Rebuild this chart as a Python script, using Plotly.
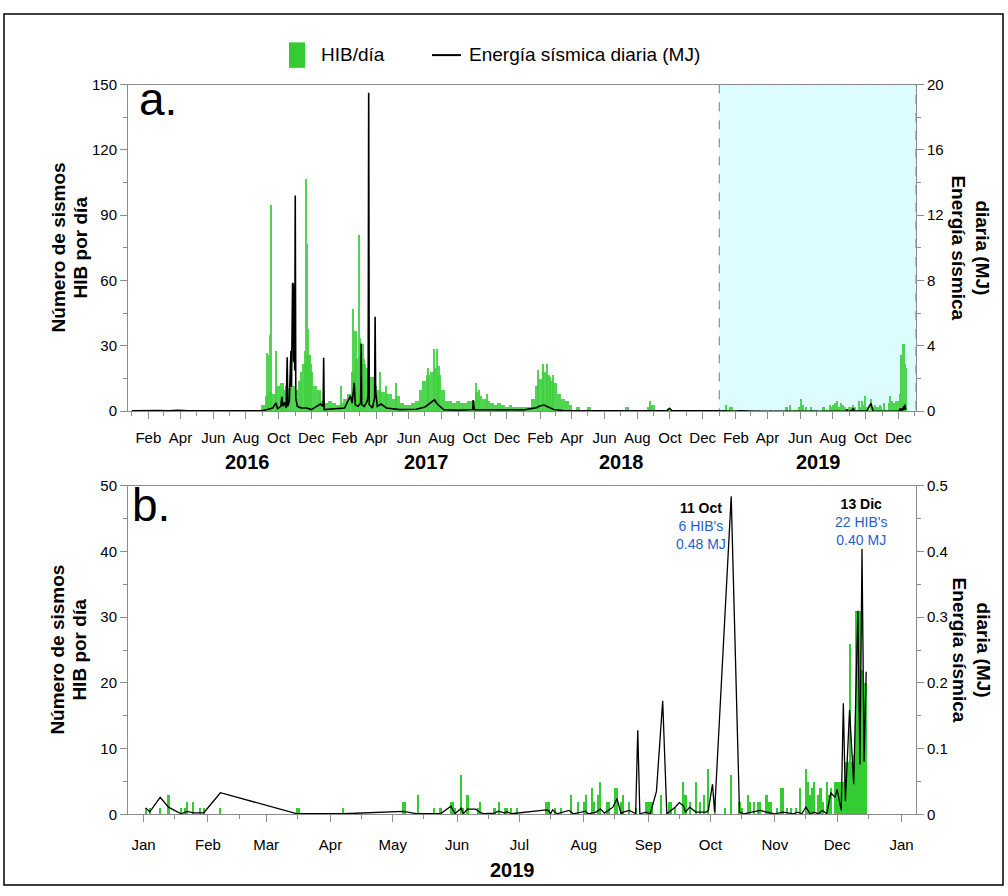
import plotly.graph_objects as go
import pandas as pd

W, H = 1008, 896


def px(x):
    return x / W


def py(y):
    return 1 - y / H


GREEN = "#33cc33"
GREEN_A = "#3fd03f"
BLUE = "#1f5fd0"
AXC = "#8c8c8c"
NARROW = "Liberation Sans Narrow, Arial Narrow, Liberation Sans, Arial, sans-serif"
SANS = "Liberation Sans, Arial, sans-serif"
DAY = 86400000

# ------------------------------------------------------------------
# Panel b : 2019 daily data
# ------------------------------------------------------------------
hib_b_dates = [
    "2019-01-02", "2019-01-04", "2019-01-09", "2019-01-13", "2019-01-19", "2019-01-21", "2019-01-22",
    "2019-01-25", "2019-01-28", "2019-01-30",
    "2019-02-07",
    "2019-03-16", "2019-03-17",
    "2019-04-07",
    "2019-05-06", "2019-05-07", "2019-05-13", "2019-05-21", "2019-05-24", "2019-05-29", "2019-05-30",
    "2019-05-31",
    "2019-06-03", "2019-06-04", "2019-06-06", "2019-06-11", "2019-06-12", "2019-06-19", "2019-06-21",
    "2019-06-24", "2019-06-25", "2019-06-27", "2019-06-30",
    "2019-07-14", "2019-07-15", "2019-07-18", "2019-07-21", "2019-07-26", "2019-07-29",
    "2019-08-01", "2019-08-02", "2019-08-05", "2019-08-06", "2019-08-08", "2019-08-09", "2019-08-12",
    "2019-08-13", "2019-08-16", "2019-08-17", "2019-08-19", "2019-08-20", "2019-08-23", "2019-08-26",
    "2019-08-31",
    "2019-09-01", "2019-09-02", "2019-09-03", "2019-09-07", "2019-09-11", "2019-09-12", "2019-09-14",
    "2019-09-18", "2019-09-19", "2019-09-21", "2019-09-24", "2019-09-26", "2019-09-28", "2019-09-30",
    "2019-10-03", "2019-10-08", "2019-10-11", "2019-10-15", "2019-10-16", "2019-10-19", "2019-10-20",
    "2019-10-22", "2019-10-24", "2019-10-25", "2019-10-28", "2019-10-29", "2019-10-30",
    "2019-11-02", "2019-11-04", "2019-11-05", "2019-11-07", "2019-11-09", "2019-11-11", "2019-11-13",
    "2019-11-16", "2019-11-17", "2019-11-18", "2019-11-19", "2019-11-20", "2019-11-22", "2019-11-23",
    "2019-11-24", "2019-11-26", "2019-11-27", "2019-11-28", "2019-11-30",
    "2019-12-01", "2019-12-02", "2019-12-03", "2019-12-04", "2019-12-05", "2019-12-06", "2019-12-07",
    "2019-12-08", "2019-12-09", "2019-12-10", "2019-12-11", "2019-12-12", "2019-12-13", "2019-12-14",
    "2019-12-15",
]
hib_b_counts = [
    1, 1, 1, 3, 1, 1, 2, 2, 1, 1,
    1,
    1, 1,
    1,
    2, 2, 3, 1, 1, 2, 2, 1,
    6, 1, 3, 1, 2, 1, 2, 1, 1, 1, 1,
    2, 2, 1, 1, 3, 2,
    2, 3, 4, 2, 3, 5, 2, 2, 4, 4, 2, 3, 2, 1, 2,
    2, 2, 2, 3, 2, 2, 1, 5, 3, 2, 5, 2, 3, 7,
    2, 1, 6, 2, 1, 3, 2, 2, 2, 2, 3, 2, 2,
    1, 4, 4, 1, 1, 1, 4, 7, 5, 3, 4, 5, 3, 4, 2, 5, 3, 4, 5,
    5, 5, 5, 5, 8, 8, 26, 8, 9, 31, 31, 31, 22, 20, 20,
]

en_b_dates = [
    "2019-01-02", "2019-01-04", "2019-01-09", "2019-01-13", "2019-01-19", "2019-01-22", "2019-01-25",
    "2019-01-30", "2019-02-07", "2019-03-16", "2019-04-07", "2019-05-06", "2019-05-13", "2019-05-21",
    "2019-05-24", "2019-05-29", "2019-05-31", "2019-06-03", "2019-06-04", "2019-06-06", "2019-06-10",
    "2019-06-12", "2019-06-14", "2019-06-19", "2019-06-21", "2019-06-24", "2019-06-25", "2019-06-27",
    "2019-06-30", "2019-07-14", "2019-07-15", "2019-07-16", "2019-07-17", "2019-07-19", "2019-07-25",
    "2019-07-27", "2019-08-02", "2019-08-03", "2019-08-07", "2019-08-09", "2019-08-11", "2019-08-15",
    "2019-08-17", "2019-08-19", "2019-08-20", "2019-08-23", "2019-08-26", "2019-08-27", "2019-08-28",
    "2019-08-31", "2019-09-02", "2019-09-05", "2019-09-08", "2019-09-10", "2019-09-14", "2019-09-16",
    "2019-09-18", "2019-09-19", "2019-09-21", "2019-09-24", "2019-09-29", "2019-09-30", "2019-10-02",
    "2019-10-03", "2019-10-11", "2019-10-15", "2019-10-17", "2019-10-21", "2019-10-25", "2019-10-28",
    "2019-11-01", "2019-11-05", "2019-11-10", "2019-11-12", "2019-11-14", "2019-11-16", "2019-11-18",
    "2019-11-20", "2019-11-22", "2019-11-24", "2019-11-26", "2019-11-28", "2019-11-30", "2019-12-01",
    "2019-12-03", "2019-12-04", "2019-12-05", "2019-12-07", "2019-12-09", "2019-12-11", "2019-12-12",
    "2019-12-13", "2019-12-14", "2019-12-15",
]
en_b_mj = [
    0.010, 0.004, 0.026, 0.011, 0.001, 0.0045, 0.0025,
    0.0025, 0.033, 0.001, 0.001, 0.0045, 0.001, 0.0005,
    0.001, 0.0125, 0.001, 0.0095, 0.001, 0.008, 0.008,
    0.003, 0.001, 0.002, 0.005, 0.002, 0.0045, 0.001,
    0.002, 0.007, 0.006, 0.001, 0.007, 0.001, 0.006,
    0.001, 0.005, 0.001, 0.0035, 0.0085, 0.002, 0.011,
    0.024, 0.001, 0.0035, 0.006, 0.001, 0.128, 0.001,
    0.0035, 0.001, 0.035, 0.173, 0.001, 0.011, 0.018,
    0.013, 0.0035, 0.011, 0.0035, 0.0035, 0.006, 0.046,
    0.0035, 0.484, 0.0035, 0.001, 0.0035, 0.006, 0.0035,
    0.001, 0.0035, 0.001, 0.0035, 0.001, 0.011, 0.001,
    0.0035, 0.001, 0.006, 0.001, 0.033, 0.026, 0.038,
    0.006, 0.169, 0.020, 0.159, 0.046, 0.310, 0.076,
    0.404, 0.080, 0.217,
]

# ------------------------------------------------------------------
# Panel a : 2016-2018 (weekly background level + single-day peaks)
# ------------------------------------------------------------------
hib_a_week_start = "2016-01-04"
hib_a_weekly = [
    0, 0, 1, 0, 1, 0, 1, 0, 0, 0,
    1, 0, 0, 0, 1, 0, 0, 0, 0, 0,
    0, 0, 0, 0, 0, 0, 0, 1, 0, 0,
    0, 0, 0, 0, 3, 7, 9, 8, 12, 7,
    10, 11, 12, 10, 14, 22, 26, 18, 12, 10,
    5, 4, 5, 4, 3, 4, 6, 8, 18, 24,
    26, 22, 20, 16, 12, 10, 9, 8, 8, 6,
    7, 4, 3, 3, 4, 5, 10, 14, 17, 18,
    20, 17, 10, 5, 5, 4, 5, 4, 4, 5,
    5, 9, 7, 6, 5, 4, 3, 4, 3, 2,
    3, 2, 2, 2, 2, 2, 6, 12, 15, 18,
    17, 14, 13, 8, 6, 5, 3, 1, 2, 1,
    1, 2, 1, 0, 1, 1, 0, 1, 0, 1,
    1, 2, 1, 1, 0, 1, 1, 2, 3, 1,
    1, 0, 1, 1, 1, 0, 1, 1, 1, 0,
    1, 1, 0, 1, 0, 1,
]

hib_a_peak_dates = [
    "2016-09-09", "2016-09-11", "2016-09-15", "2016-09-17", "2016-09-26", "2016-10-06", "2016-10-09",
    "2016-10-14", "2016-11-12", "2016-11-19", "2016-11-22", "2016-11-23", "2016-11-25", "2016-11-28",
    "2016-12-01", "2016-12-17", "2017-01-26", "2017-02-16", "2017-02-20", "2017-02-22", "2017-02-28",
    "2017-03-02", "2017-03-07", "2017-03-10", "2017-04-08", "2017-04-20", "2017-05-08", "2017-07-07",
    "2017-07-18", "2017-07-24", "2017-07-27", "2017-10-04", "2017-10-10", "2017-10-25", "2018-01-28",
    "2018-02-06", "2018-02-13", "2018-02-20", "2018-02-25", "2018-08-24",
]
hib_a_peak_counts = [
    27, 26, 35, 95, 28, 13, 13,
    12, 18, 28, 107, 77, 38, 26,
    22, 9, 12, 47, 37, 37, 81,
    34, 31, 24, 18, 12, 13, 20,
    29, 29, 21, 13, 10, 8, 19,
    22, 22, 16, 17, 5,
]

en_a_dates = [
    "2016-01-01", "2016-01-20", "2016-02-10", "2016-02-20", "2016-03-10", "2016-03-27", "2016-04-15",
    "2016-06-01", "2016-08-01", "2016-08-31", "2016-09-10", "2016-09-20", "2016-09-26", "2016-09-29",
    "2016-10-05", "2016-10-07", "2016-10-09", "2016-10-12", "2016-10-15", "2016-10-17", "2016-10-18",
    "2016-10-21", "2016-10-23", "2016-10-24", "2016-10-25", "2016-10-26", "2016-10-27", "2016-10-28",
    "2016-10-29", "2016-10-30", "2016-10-31", "2016-11-01", "2016-11-02", "2016-11-05", "2016-11-12",
    "2016-11-22", "2016-12-01", "2016-12-18", "2016-12-23", "2016-12-24", "2016-12-25", "2017-01-10",
    "2017-02-01", "2017-02-12", "2017-02-15", "2017-02-19", "2017-02-21", "2017-02-26", "2017-03-03",
    "2017-03-04", "2017-03-05", "2017-03-10", "2017-03-15", "2017-03-17", "2017-03-18", "2017-03-19",
    "2017-03-25", "2017-03-29", "2017-03-30", "2017-03-31", "2017-04-03", "2017-04-10", "2017-04-20",
    "2017-05-15", "2017-06-15", "2017-07-01", "2017-07-19", "2017-07-22", "2017-07-26", "2017-08-05",
    "2017-09-01", "2017-09-28", "2017-09-29", "2017-10-01", "2017-11-01", "2018-01-01", "2018-01-25",
    "2018-01-31", "2018-02-08", "2018-02-16", "2018-02-26", "2018-03-15", "2018-06-01", "2018-09-25",
    "2018-09-30", "2018-10-05", "2018-12-31",
]
en_a_mj = [
    0.02, 0.03, 0.06, 0.04, 0.02, 0.06, 0.02,
    0.01, 0.01, 0.02, 0.10, 0.20, 0.50, 0.15,
    0.30, 0.88, 0.30, 0.54, 0.20, 3.30, 0.30,
    0.60, 2.80, 3.70, 1.50, 3.90, 7.85, 7.80,
    3.00, 7.70, 2.50, 13.20, 0.80, 0.30, 0.20,
    0.20, 0.10, 0.44, 0.30, 3.28, 0.10, 0.14,
    0.20, 0.94, 0.50, 1.74, 0.40, 0.30, 0.50,
    4.14, 0.40, 0.30, 0.60, 1.00, 19.50, 0.40,
    0.20, 0.80, 5.79, 1.24, 0.30, 0.44, 0.20,
    0.10, 0.12, 0.26, 0.70, 0.52, 0.38, 0.10,
    0.06, 0.10, 0.68, 0.10, 0.08, 0.08, 0.22,
    0.32, 0.38, 0.26, 0.10, 0.04, 0.02, 0.02,
    0.18, 0.02, 0.02,
]

legend_labels = ["HIB/día", "Energía sísmica diaria (MJ)"]

assert len(hib_b_dates) == len(hib_b_counts)
assert len(en_b_dates) == len(en_b_mj)
assert len(hib_a_peak_dates) == len(hib_a_peak_counts)
assert len(en_a_dates) == len(en_a_mj)

# axis ranges / ticks
range_a = ["2015-12-25", "2020-01-03"]
range_b = ["2018-12-24 12:00", "2020-01-08"]
shade_start = "2019-01-01"

weekly_dates = pd.date_range(hib_a_week_start, periods=len(hib_a_weekly), freq="7D")

fig = go.Figure()

# ---- panel a ----
fig.add_trace(go.Bar(x=weekly_dates, y=hib_a_weekly, width=7 * DAY, offset=0,
                     marker=dict(color=GREEN_A, line=dict(width=0)), opacity=0.9,
                     xaxis="x", yaxis="y", showlegend=False, hoverinfo="skip"))
fig.add_trace(go.Bar(x=hib_a_peak_dates + hib_b_dates, y=hib_a_peak_counts + hib_b_counts,
                     width=2.0 * DAY, marker=dict(color=GREEN_A, line=dict(width=0)), opacity=0.9,
                     xaxis="x", yaxis="y", showlegend=False, hoverinfo="skip"))
fig.add_trace(go.Scatter(x=en_a_dates + en_b_dates, y=en_a_mj + en_b_mj, mode="lines",
                         line=dict(color="black", width=1.6),
                         xaxis="x", yaxis="y2", showlegend=False, hoverinfo="skip"))

# ---- panel b ----
fig.add_trace(go.Bar(x=hib_b_dates, y=hib_b_counts, width=DAY,
                     marker=dict(color=GREEN, line=dict(width=0)),
                     xaxis="x2", yaxis="y3", name=legend_labels[0], showlegend=False))
fig.add_trace(go.Scatter(x=en_b_dates, y=en_b_mj, mode="lines",
                         line=dict(color="black", width=1.3),
                         xaxis="x2", yaxis="y4", name=legend_labels[1], showlegend=False))

tickfont = dict(family=NARROW, size=15, color="black")
common = dict(showline=True, linecolor=AXC, linewidth=1, ticks="outside", tickcolor=AXC,
              ticklen=7, showgrid=False, zeroline=False, tickfont=tickfont)

xa_dom = [px(128), px(916)]
ya_dom = [py(410), py(77)]
yb_dom = [py(821), py(486)]

fig.update_layout(
    width=W, height=H,
    margin=dict(l=0, r=0, t=0, b=0),
    paper_bgcolor="white", plot_bgcolor="white",
    barmode="overlay", bargap=0,
    font=dict(family=SANS, color="black"),
    showlegend=False,
    xaxis=dict(domain=xa_dom, anchor="y", range=range_a, type="date",
               tickformat="%b", dtick="M2", tick0="2016-02-01", mirror=True,
               ticklabelstandoff=6,
               minor=dict(dtick="M1", tick0="2016-01-01", ticks="outside", ticklen=4,
                          tickcolor=AXC, showgrid=False),
               **common),
    yaxis=dict(domain=ya_dom, anchor="x", range=[0, 150], tick0=0, dtick=30,
               minor=dict(dtick=15, ticks="outside", ticklen=4, tickcolor=AXC, showgrid=False),
               **common),
    yaxis2=dict(overlaying="y", anchor="x", side="right", range=[0, 20], tick0=0, dtick=4,
                minor=dict(dtick=2, ticks="outside", ticklen=4, tickcolor=AXC, showgrid=False),
                **common),
    xaxis2=dict(domain=xa_dom, anchor="y3", range=range_b, type="date",
                tickformat="%b", dtick="M1", tick0="2019-01-01", mirror=True,
                ticklabelstandoff=10,
                minor=dict(dtick="M1", tick0="2019-01-16", ticks="outside", ticklen=4,
                           tickcolor=AXC, showgrid=False),
                **common),
    yaxis3=dict(domain=yb_dom, anchor="x2", range=[0, 50], tick0=0, dtick=10,
                minor=dict(dtick=5, ticks="outside", ticklen=4, tickcolor=AXC, showgrid=False),
                **common),
    yaxis4=dict(overlaying="y3", anchor="x2", side="right", range=[0, 0.5], tick0=0, dtick=0.1,
                minor=dict(dtick=0.05, ticks="outside", ticklen=4, tickcolor=AXC, showgrid=False),
                **common),
)

# shaded 2019 window in panel a
fig.add_shape(type="rect", xref="x", yref="y", x0=shade_start, x1=range_a[1], y0=0, y1=150,
              fillcolor="#dcfcfd", line=dict(color="#7a7a7a", width=1, dash="dash"), layer="below")
# outer frame
fig.add_shape(type="rect", xref="paper", yref="paper", x0=px(4), x1=px(1003), y0=py(893), y1=py(5),
              line=dict(color="black", width=1.5), fillcolor="rgba(0,0,0,0)", layer="above")
# legend keys (drawn by hand to match the reference key sizes)
fig.add_shape(type="rect", xref="paper", yref="paper", x0=px(289), x1=px(305), y0=py(60), y1=py(34),
              fillcolor=GREEN, line=dict(width=0))
fig.add_shape(type="line", xref="paper", yref="paper", x0=px(432), x1=px(461), y0=py(47), y1=py(47),
              line=dict(color="black", width=2))

ann = []
legfont = dict(family=NARROW, size=19, color="black")
ann.append(dict(text=legend_labels[0], x=px(319), y=py(46), xref="paper", yref="paper",
                xanchor="left", yanchor="middle", showarrow=False, font=legfont))
ann.append(dict(text=legend_labels[1], x=px(467), y=py(46), xref="paper", yref="paper",
                xanchor="left", yanchor="middle", showarrow=False, font=legfont))

# panel letters
ann.append(dict(text="a.", x=px(137), y=py(92), xref="paper", yref="paper", xanchor="left",
                yanchor="middle", showarrow=False, font=dict(family=SANS, size=46, color="black")))
ann.append(dict(text="b.", x=px(130), y=py(506), xref="paper", yref="paper", xanchor="left",
                yanchor="middle", showarrow=False, font=dict(family=SANS, size=46, color="black")))

# year labels
years_a = ["2016", "2017", "2018", "2019"]
years_a_x = [247, 426, 621, 818]
for t, xp in zip(years_a, years_a_x):
    ann.append(dict(text="<b>%s</b>" % t, x=px(xp), y=py(462), xref="paper", yref="paper",
                    xanchor="center", yanchor="middle", showarrow=False,
                    font=dict(family=NARROW, size=20, color="black")))
ann.append(dict(text="<b>2019</b>", x=px(512), y=py(878), xref="paper", yref="paper",
                xanchor="center", yanchor="middle", showarrow=False,
                font=dict(family=NARROW, size=20, color="black")))

# axis titles
titlefont = dict(family=SANS, size=19, color="black")
for yc in (243, 653):
    ann.append(dict(text="<b>Número de sismos</b>", x=px(58), y=py(yc), xref="paper", yref="paper",
                    xanchor="center", yanchor="middle", textangle=-90, showarrow=False, font=titlefont))
    ann.append(dict(text="<b>HIB por día</b>", x=px(80), y=py(yc), xref="paper", yref="paper",
                    xanchor="center", yanchor="middle", textangle=-90, showarrow=False, font=titlefont))
    ann.append(dict(text="<b>Energía sísmica</b>", x=px(959), y=py(yc), xref="paper", yref="paper",
                    xanchor="center", yanchor="middle", textangle=90, showarrow=False, font=titlefont))
    ann.append(dict(text="<b>diaria (MJ)</b>", x=px(983), y=py(yc), xref="paper", yref="paper",
                    xanchor="center", yanchor="middle", textangle=90, showarrow=False, font=titlefont))

# event labels in panel b
evfont = dict(family=SANS, size=14, color="black")
ann.append(dict(text="<b>11 Oct</b><br><span style='color:%s'>6 HIB's</span><br>"
                     "<span style='color:%s'>0.48 MJ</span>" % (BLUE, BLUE),
                x=px(701), y=py(527), xref="paper", yref="paper", xanchor="center", yanchor="middle",
                showarrow=False, font=evfont, align="center"))
ann.append(dict(text="<b>13 Dic</b><br><span style='color:%s'>22 HIB's</span><br>"
                     "<span style='color:%s'>0.40 MJ</span>" % (BLUE, BLUE),
                x=px(861), y=py(523), xref="paper", yref="paper", xanchor="center", yanchor="middle",
                showarrow=False, font=evfont, align="center"))

fig.update_layout(annotations=ann)

fig.write_html("out.html")
